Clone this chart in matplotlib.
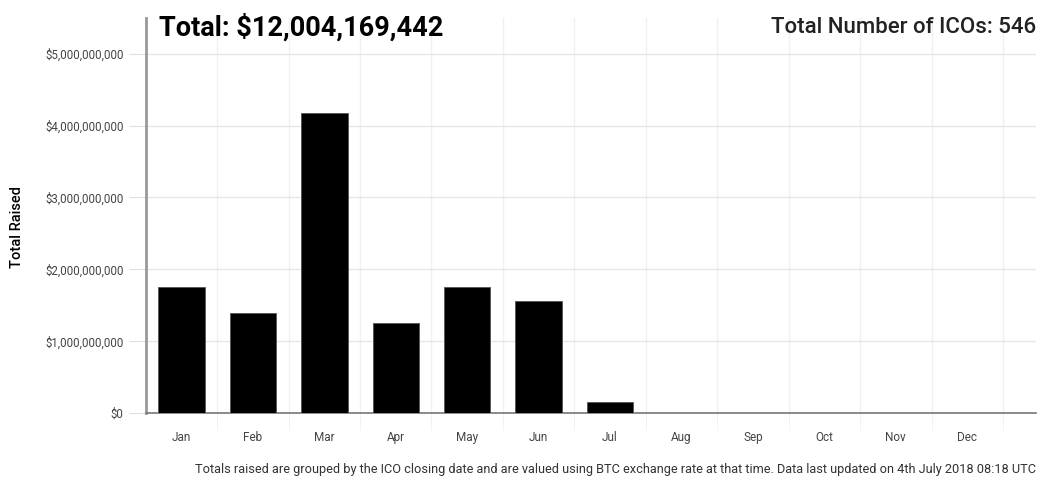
import matplotlib.pyplot as plt
import numpy as np

months = ["Jan", "Feb", "Mar", "Apr", "May", "Jun", "Jul", "Aug", "Sep", "Oct", "Nov", "Dec"]
raised = [1.76e9, 1.39e9, 4.17e9, 1.26e9, 1.76e9, 1.56e9, 0.16e9, 0, 0, 0, 0, 0]
y_ticks = [0, 1e9, 2e9, 3e9, 4e9, 5e9]
total_text = "Total: $12,004,169,442"
count_text = "Total Number of ICOs: 546"
note = ("Totals raised are grouped by the ICO closing date and are valued using BTC exchange rate "
        "at that time. Data last updated on 4th July 2018 08:18 UTC")

plt.rcParams['font.family'] = ['Roboto', 'DejaVu Sans']

fig = plt.figure(figsize=(10.41, 4.82), dpi=100)
ax = fig.add_axes([0.14, 0.143, 0.855, 0.82])

x = np.arange(len(months))
ax.bar(x, raised, width=0.65, color="black", edgecolor="#555555", linewidth=0.6, zorder=3)

ax.set_xlim(-0.5, 11.96)
ax.set_ylim(0, 5.5e9)
ax.set_yticks(y_ticks)
ax.set_yticklabels(["$" + format(int(v), ",") for v in y_ticks])
ax.set_xticks(x)
ax.set_xticklabels(months)
ax.set_xticks(np.arange(len(months)) + 0.5, minor=True)

# light grid, minor ticks mark the month boundaries
ax.grid(axis="y", color="#e6e6e6", linewidth=1, zorder=0)
ax.grid(axis="x", which="minor", color="#f0f0f0", linewidth=1, zorder=0)
ax.tick_params(axis="x", which="major", length=0, pad=13, labelsize=8.5, labelcolor="#444444")
ax.tick_params(axis="x", which="minor", length=12, color="#f0f0f0")
ax.tick_params(axis="y", length=12, color="#dddddd", pad=4, labelsize=8.3, labelcolor="#444444")

for s in ["top", "right"]:
    ax.spines[s].set_visible(False)
ax.spines["left"].set_color("#999999")
ax.spines["left"].set_linewidth(2)
ax.spines["bottom"].set_color("#777777")
ax.spines["bottom"].set_linewidth(1.2)

ax.set_ylabel("Total Raised", fontsize=10.5, fontweight="medium")
ax.yaxis.set_label_coords(-0.137, 0.47)

fig.text(0.153, 0.942, total_text, fontsize=19.5, fontweight="bold", va="center", ha="left")
fig.text(0.995, 0.942, count_text, fontsize=16, fontweight="medium", va="center", ha="right",
         color="#222222")
fig.text(0.995, 0.012, note, fontsize=9.2, ha="right", va="bottom", color="#333333")

fig.savefig("out.png", dpi=100)
